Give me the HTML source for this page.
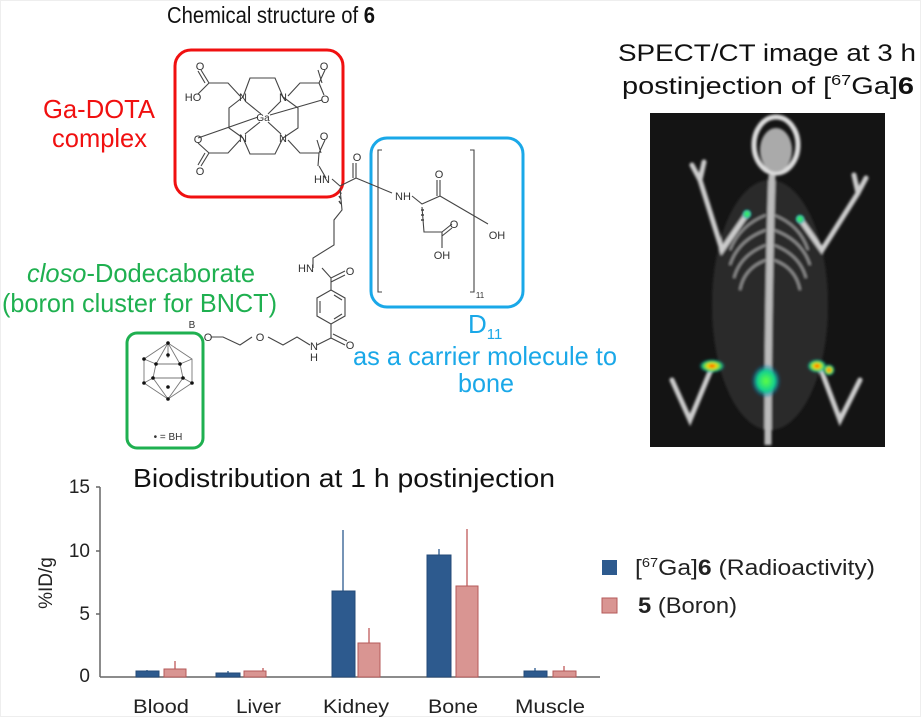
<!DOCTYPE html>
<html><head><meta charset="utf-8"><style>
html,body{margin:0;padding:0;background:#fff}
svg{display:block;font-family:"Liberation Sans",sans-serif}
</style></head><body>
<svg width="921" height="717" viewBox="0 0 921 717" xmlns="http://www.w3.org/2000/svg">
<defs>
<filter id="bl" x="-20%" y="-20%" width="140%" height="140%"><feGaussianBlur stdDeviation="1.2"/></filter>
<radialGradient id="hot"><stop offset="0" stop-color="#ff3000"/><stop offset="0.35" stop-color="#f0e000"/><stop offset="0.7" stop-color="#20d070"/><stop offset="1" stop-color="#10a0c0" stop-opacity="0"/></radialGradient>
<radialGradient id="grn"><stop offset="0" stop-color="#60ff40"/><stop offset="0.6" stop-color="#10d090"/><stop offset="1" stop-color="#1060c0" stop-opacity="0"/></radialGradient>
</defs>
<rect x="0" y="0" width="921" height="717" fill="#fff" stroke="#eee" stroke-width="2"/>

<!-- titles -->
<text x="167" y="23" font-size="23" fill="#111" textLength="208" lengthAdjust="spacingAndGlyphs">Chemical structure of <tspan font-weight="bold">6</tspan></text>
<text x="618" y="61" font-size="24" fill="#111" textLength="298" lengthAdjust="spacingAndGlyphs">SPECT/CT image at 3 h</text>
<text x="622" y="94" font-size="24" fill="#111" textLength="292" lengthAdjust="spacingAndGlyphs">postinjection of [<tspan font-size="15" dy="-9">67</tspan><tspan dy="9">Ga]</tspan><tspan font-weight="bold">6</tspan></text>

<!-- side labels -->
<text x="43" y="118" font-size="26" fill="#f01010" textLength="112" lengthAdjust="spacingAndGlyphs">Ga-DOTA</text>
<text x="52" y="147" font-size="26" fill="#f01010" textLength="95" lengthAdjust="spacingAndGlyphs">complex</text>
<text x="27" y="282" font-size="26" fill="#1fb050" textLength="228" lengthAdjust="spacingAndGlyphs"><tspan font-style="italic">closo</tspan>-Dodecaborate</text>
<text x="2" y="312" font-size="26" fill="#1fb050" textLength="275" lengthAdjust="spacingAndGlyphs">(boron cluster for BNCT)</text>
<text x="468" y="333" font-size="26" fill="#1aa8e8">D<tspan font-size="15" dy="6">11</tspan></text>
<text x="353" y="365" font-size="26" fill="#1aa8e8" textLength="264" lengthAdjust="spacingAndGlyphs">as a carrier molecule to</text>
<text x="458" y="392" font-size="26" fill="#1aa8e8" textLength="56" lengthAdjust="spacingAndGlyphs">bone</text>

<!-- boxes -->
<rect x="175" y="50" width="168" height="147" rx="16" fill="none" stroke="#f01010" stroke-width="3"/>
<rect x="371" y="138" width="152" height="169" rx="16" fill="none" stroke="#1aa8e8" stroke-width="3"/>
<rect x="127" y="333" width="76" height="115" rx="10" fill="none" stroke="#1fb050" stroke-width="3"/>

<!-- chemical structure -->
<g stroke="#444" stroke-width="1.1" fill="none">
 <path d="M243,97 L250,78 L275,78 L283,97"/>
 <path d="M243,138 L250,154 L275,154 L283,138"/>
 <path d="M243,97 L229,108 L229,128 L243,138"/>
 <path d="M283,97 L298,108 L298,128 L283,138"/>
 <path d="M245,101 L261,114 M281,101 L268,114 M245,134 L260,122 M281,134 L268,122"/>
 <path d="M198,138 L258,117 M270,115 L322,100"/>
 <path d="M240,96 L228,83 L209,83 L201,70 M205,83 L198,71 M209,83 L198,94"/>
 <path d="M288,96 L300,83 L319,83 L325,70 M322,83 L318,70 M319,83 L324,95"/>
 <path d="M240,140 L228,153 L209,153 L198,143 M209,153 L201,166 M205,153 L198,165"/>
 <path d="M288,140 L300,153 L319,153 L325,140 M321,153 L317,140 M319,153 L318,166"/>
 <path d="M319,166 L326,178"/>
 <path d="M332,179 L340,186 L356,178 L356,163 M353,178 L353,163 M356,178 L392,193"/>
 <path d="M340,188 L342,210 L334,220 L334,245 L313,258 L313,268"/>
 <path d="M340,191 l1,3 M339,196 l2,3 M339,201 l2,3" stroke-width="1.5"/>
 <path d="M322,268 L331,278 L345,271 M331,282 L345,275 M331,278 L331,290"/>
 <path d="M331,290 L345,298 L345,316 L331,324 L317,316 L317,298 Z"/>
 <path d="M334,295 L342,300 M342,314 L334,319 M320,301 L320,313"/>
 <path d="M331,324 L331,338 L345,345 M333,334 L347,341 M331,338 L317,345"/>
 <path d="M310,345 L297,337 L283,345 L268,337 M252,337 L240,345 L223,337 L211,337"/>
 <path d="M382,150 L378,150 L378,292 L382,292 M470,150 L474,150 L474,292 L470,292"/>
 <path d="M412,196 L422,204 L440,196 L440,180 M437,196 L437,180 M440,196 L488,224"/>
 <path d="M422,207 L424,232 L442,232 L452,224 M442,236 L452,228 M442,232 L442,248" />
 <path d="M421,210 l3,0 M421,215 l3,0 M421,220 l3,0" stroke-width="1.5"/>
</g>
<g font-size="11" fill="#333" text-anchor="middle">
 <text x="243" y="101">N</text><text x="283" y="101">N</text>
 <text x="243" y="142">N</text><text x="283" y="142">N</text>
 <text x="263" y="121" font-size="10">Ga</text>
 <text x="200" y="70">O</text><text x="193" y="101">HO</text>
 <text x="324" y="70">O</text><text x="325" y="103">O</text>
 <text x="198" y="143">O</text><text x="200" y="175">O</text>
 <text x="324" y="140">O</text>
 <text x="322" y="183">HN</text>
 <text x="357" y="161">O</text>
 <text x="403" y="200">NH</text>
 <text x="439" y="178">O</text>
 <text x="454" y="228">O</text>
 <text x="442" y="259">OH</text>
 <text x="497" y="239">OH</text>
 <text x="480" y="298" font-size="8">11</text>
 <text x="306" y="272">HN</text>
 <text x="350" y="275">O</text>
 <text x="350" y="349">O</text>
 <text x="314" y="350">N</text><text x="314" y="361">H</text>
 <text x="208" y="341">O</text>
 <text x="260" y="341">O</text>
 <text x="192" y="328" font-size="10">B</text>
 <text x="168" y="440" font-size="10">• = BH</text>
</g>
<g stroke="#777" stroke-width="0.9" fill="none">
 <path d="M168,343 L144,359 L144,383 L168,399 L192,383 L192,359 Z"/>
 <path d="M168,343 L156,364 L180,364 Z M156,364 L153,378 L183,378 L180,364 M168,399 L153,378 M168,399 L183,378 M144,359 L156,364 M192,359 L180,364 M144,383 L153,378 M192,383 L183,378 M168,343 L168,358"/>
</g>
<g fill="#111">
 <circle cx="168" cy="343" r="1.8"/><circle cx="144" cy="359" r="1.8"/><circle cx="168" cy="355" r="1.8"/>
 <circle cx="156" cy="364" r="1.8"/><circle cx="180" cy="364" r="1.8"/><circle cx="144" cy="383" r="1.8"/>
 <circle cx="192" cy="383" r="1.8"/><circle cx="153" cy="378" r="1.8"/><circle cx="183" cy="378" r="1.8"/>
 <circle cx="168" cy="399" r="1.8"/><circle cx="168" cy="387" r="1.8"/>
</g>

<!-- SPECT image -->
<rect x="650" y="113" width="235" height="334" fill="#141414"/>
<g filter="url(#bl)">
 <ellipse cx="770" cy="305" rx="58" ry="125" fill="#2a2a2a"/>
 <ellipse cx="776" cy="145" rx="22" ry="28" fill="none" stroke="#ddd" stroke-width="5"/>
 <ellipse cx="776" cy="150" rx="16" ry="22" fill="#aaa"/>
 <path d="M772,175 Q768,300 768,445" stroke="#bbb" stroke-width="7" fill="none"/>
 <g stroke="#999" stroke-width="2" fill="none">
  <path d="M766,215 Q740,225 730,250 M766,230 Q738,240 730,265 M766,245 Q740,255 734,278 M766,260 Q744,268 740,290"/>
  <path d="M774,215 Q800,225 808,250 M774,230 Q802,240 810,265 M774,245 Q800,255 806,278 M774,260 Q796,268 800,290"/>
 </g>
 <g stroke="#ccc" stroke-width="5" fill="none" stroke-linecap="round">
  <path d="M747,214 L722,250 L700,180"/>
  <path d="M800,219 L822,250 L858,193"/>
  <path d="M712,367 L690,420 L672,380"/>
  <path d="M820,367 L840,420 L860,380"/>
  <path d="M700,180 l-8,-15 M700,180 l4,-18 M858,193 l-4,-18 M858,193 l8,-15"/>
 </g>
</g>
<g filter="url(#bl)">
 <ellipse cx="747" cy="214" rx="5" ry="5" fill="url(#grn)"/>
 <ellipse cx="800" cy="219" rx="5" ry="5" fill="url(#grn)"/>
 <ellipse cx="712" cy="366" rx="13" ry="7" fill="url(#hot)"/>
 <ellipse cx="817" cy="366" rx="10" ry="7" fill="url(#hot)"/>
 <ellipse cx="829" cy="370" rx="6" ry="6" fill="url(#hot)"/>
 <ellipse cx="766" cy="381" rx="15" ry="17" fill="url(#grn)"/>
</g>

<!-- chart -->
<text x="133" y="487" font-size="26" fill="#111" textLength="422" lengthAdjust="spacingAndGlyphs">Biodistribution at 1 h postinjection</text>
<g stroke="#666" stroke-width="1.5">
 <line x1="100" y1="487" x2="100" y2="677"/>
 <line x1="100" y1="677" x2="600" y2="677"/>
 <line x1="96" y1="487" x2="100" y2="487"/><line x1="96" y1="551" x2="100" y2="551"/><line x1="96" y1="614" x2="100" y2="614"/>
</g>
<g font-size="19" fill="#222" text-anchor="end">
 <text x="90" y="493">15</text><text x="90" y="557">10</text><text x="90" y="620">5</text><text x="90" y="682">0</text>
</g>
<text transform="translate(52,583) rotate(-90)" font-size="19" text-anchor="middle" fill="#222">%ID/g</text>
<g stroke-width="1.3">
 <line x1="147" y1="671" x2="147" y2="670" stroke="#2d5a8e"/>
 <line x1="175" y1="669" x2="175" y2="661" stroke="#c05a5a"/>
 <line x1="228" y1="673" x2="228" y2="671" stroke="#2d5a8e"/>
 <line x1="263" y1="671" x2="263" y2="668" stroke="#c05a5a"/>
 <line x1="343" y1="591" x2="343" y2="530" stroke="#2d5a8e"/>
 <line x1="369" y1="643" x2="369" y2="628" stroke="#c05a5a"/>
 <line x1="439" y1="555" x2="439" y2="549" stroke="#2d5a8e"/>
 <line x1="467" y1="586" x2="467" y2="529" stroke="#c05a5a"/>
 <line x1="535" y1="671" x2="535" y2="668" stroke="#2d5a8e"/>
 <line x1="564" y1="671" x2="564" y2="666" stroke="#c05a5a"/>
</g>
<g fill="#2d5a8e" stroke="#244b78" stroke-width="1">
 <rect x="136" y="671" width="23" height="6"/>
 <rect x="216" y="673" width="24" height="4"/>
 <rect x="332" y="591" width="23" height="86"/>
 <rect x="427" y="555" width="24" height="122"/>
 <rect x="524" y="671" width="23" height="6"/>
</g>
<g fill="#d99592" stroke="#b55a5a" stroke-width="1">
 <rect x="164" y="669" width="22" height="8"/>
 <rect x="244" y="671" width="22" height="6"/>
 <rect x="358" y="643" width="22" height="34"/>
 <rect x="456" y="586" width="22" height="91"/>
 <rect x="553" y="671" width="23" height="6"/>
</g>
<g font-size="19" fill="#222">
 <text x="133" y="713" textLength="56" lengthAdjust="spacingAndGlyphs">Blood</text>
 <text x="236" y="713" textLength="45" lengthAdjust="spacingAndGlyphs">Liver</text>
 <text x="323" y="713" textLength="66" lengthAdjust="spacingAndGlyphs">Kidney</text>
 <text x="428" y="713" textLength="50" lengthAdjust="spacingAndGlyphs">Bone</text>
 <text x="515" y="713" textLength="70" lengthAdjust="spacingAndGlyphs">Muscle</text>
</g>
<rect x="602" y="560" width="15" height="15" fill="#2d5a8e"/>
<rect x="602" y="598" width="15" height="15" fill="#d99592" stroke="#b55a5a"/>
<text x="635" y="575" font-size="22" fill="#222" textLength="240" lengthAdjust="spacingAndGlyphs">[<tspan font-size="13" dy="-8">67</tspan><tspan dy="8">Ga]</tspan><tspan font-weight="bold">6</tspan> (Radioactivity)</text>
<text x="638" y="613" font-size="22" fill="#222" textLength="99" lengthAdjust="spacingAndGlyphs"><tspan font-weight="bold">5</tspan> (Boron)</text>
</svg>
</body></html>
